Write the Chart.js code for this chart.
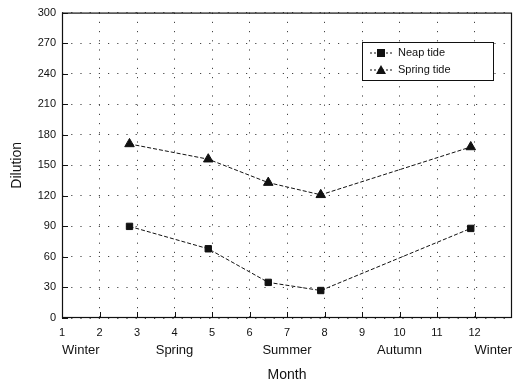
<!DOCTYPE html>
<html>
<head>
<meta charset="utf-8">
<script src="https://cdn.jsdelivr.net/npm/chart.js@4"></script>
<style>
    html, body { margin: 0; padding: 0; background: #fff; }
    #wrap { width: 521px; height: 385px; }
</style>
</head>
<body>
<div id="wrap"><canvas id="tideChart" width="521" height="385"></canvas></div>
<script>
// ======================
// Data
// ======================
const months = [2.8, 4.9, 6.5, 7.9, 11.9];
const neapTide = [90, 68, 35, 27, 88];
const springTide = [171, 156, 133, 121, 168];
const yTicks = [0, 30, 60, 90, 120, 150, 180, 210, 240, 270, 300];
const monthTicks = [1, 2, 3, 4, 5, 6, 7, 8, 9, 10, 11, 12];
const seasons = ['Winter', 'Spring', 'Summer', 'Autumn', 'Winter'];
const seasonMonths = [1, 4, 7, 10, 12];
const seasonAlign = ['left', 'center', 'center', 'center', 'left'];

const FONT = '"Liberation Sans", Arial, sans-serif';
const INK = '#111';

function points(ys) {
    return months.map((m, i) => ({ x: m, y: ys[i] }));
}

// ======================
// Frame, tick marks, season row, legend box
// ======================
const decorations = {
    id: 'decorations',
    afterDraw(chart) {
        const { ctx, chartArea: a, scales } = chart;
        const x = scales.x, y = scales.y;
        ctx.save();
        ctx.setLineDash([]);
        ctx.strokeStyle = INK;

        // plot frame
        ctx.lineWidth = 1.2;
        ctx.strokeRect(a.left + 0.5, a.top + 0.5, a.right - a.left - 1, a.bottom - a.top - 1);

        // inward tick marks
        ctx.lineWidth = 1;
        ctx.beginPath();
        monthTicks.forEach(m => {
            const px = Math.round(x.getPixelForValue(m)) + 0.5;
            ctx.moveTo(px, a.bottom);
            ctx.lineTo(px, a.bottom - 6);
        });
        yTicks.forEach(v => {
            const py = Math.round(y.getPixelForValue(v)) + 0.5;
            ctx.moveTo(a.left, py);
            ctx.lineTo(a.left + 6, py);
        });
        ctx.stroke();

        // season names under the month numbers
        ctx.fillStyle = INK;
        ctx.font = '13px ' + FONT;
        ctx.textBaseline = 'middle';
        seasons.forEach((s, i) => {
            ctx.textAlign = seasonAlign[i];
            ctx.fillText(s, x.getPixelForValue(seasonMonths[i]), a.bottom + 32);
        });

        // legend
        const bx = 362, by = 42, bw = 131, bh = 38;
        ctx.fillStyle = '#fff';
        ctx.fillRect(bx, by, bw, bh);
        ctx.strokeRect(bx + 0.5, by + 0.5, bw, bh);
        chart.data.datasets.forEach((ds, i) => {
            const ly = by + 11 + i * 17;
            ctx.strokeStyle = INK;
            ctx.setLineDash([2, 2]);
            ctx.beginPath();
            ctx.moveTo(bx + 8, ly);
            ctx.lineTo(bx + 32, ly);
            ctx.stroke();
            ctx.setLineDash([]);
            ctx.fillStyle = INK;
            const cx = bx + 19;
            if (ds.pointStyle === 'rect') {
                ctx.fillRect(cx - 4, ly - 4, 8, 8);
            } else {
                ctx.beginPath();
                ctx.moveTo(cx, ly - 5);
                ctx.lineTo(cx + 5, ly + 4);
                ctx.lineTo(cx - 5, ly + 4);
                ctx.closePath();
                ctx.fill();
            }
            ctx.font = '11px ' + FONT;
            ctx.textAlign = 'left';
            ctx.fillText(ds.label, bx + 36, ly);
        });
        ctx.restore();
    }
};

// ======================
// Chart
// ======================
new Chart(document.getElementById('tideChart'), {
    type: 'line',
    data: {
        datasets: [{
            label: 'Neap tide',
            data: points(neapTide),
            borderColor: INK,
            borderWidth: 1,
            borderDash: [4, 2],
            pointStyle: 'rect',
            pointRadius: 4.5,
            pointBackgroundColor: INK,
            pointBorderColor: INK
        }, {
            label: 'Spring tide',
            data: points(springTide),
            borderColor: INK,
            borderWidth: 1,
            borderDash: [4, 2],
            pointStyle: 'triangle',
            pointRadius: 5.5,
            pointBackgroundColor: INK,
            pointBorderColor: INK
        }]
    },
    options: {
        responsive: false,
        animation: false,
        layout: { padding: { top: 7, right: 9, left: 0, bottom: 0 } },
        scales: {
            x: {
                type: 'linear',
                min: 1,
                max: 13,
                afterFit: s => { s.height = 67; },
                afterBuildTicks: s => { s.ticks = monthTicks.map(v => ({ value: v })); },
                ticks: {
                    color: INK,
                    padding: 8,
                    font: { family: FONT, size: 11 }
                },
                grid: { color: '#444', lineWidth: 1, drawTicks: false },
                border: { display: false, dash: [1.2, 8] },
                title: {
                    display: true,
                    text: 'Month',
                    color: INK,
                    padding: { top: 0, bottom: 1 },
                    font: { family: FONT, size: 14 }
                }
            },
            y: {
                min: 0,
                max: 300,
                afterFit: s => { s.width = 62; },
                afterBuildTicks: s => { s.ticks = yTicks.map(v => ({ value: v })); },
                ticks: {
                    color: INK,
                    padding: 6,
                    font: { family: FONT, size: 11 }
                },
                grid: { color: '#444', lineWidth: 1, drawTicks: false },
                border: { display: false, dash: [1.2, 8] },
                title: {
                    display: true,
                    text: 'Dilution',
                    color: INK,
                    padding: { top: 9, bottom: 0 },
                    font: { family: FONT, size: 14 }
                }
            }
        },
        plugins: {
            legend: { display: false },
            tooltip: { enabled: false }
        }
    },
    plugins: [decorations]
});
</script>
</body>
</html>
